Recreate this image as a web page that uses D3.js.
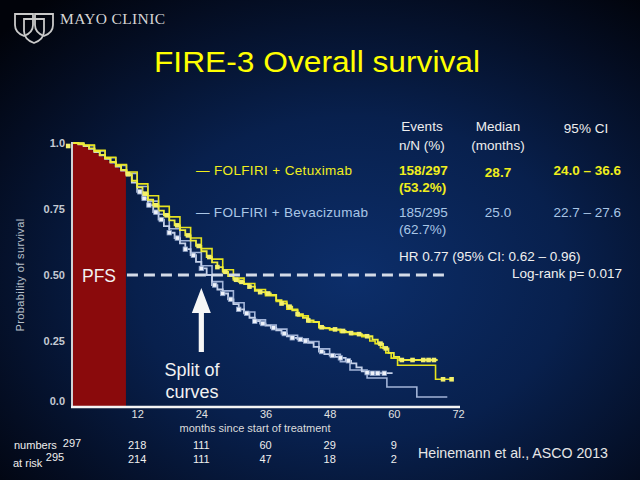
<!DOCTYPE html>
<html><head><meta charset="utf-8">
<script src="https://cdn.jsdelivr.net/npm/d3@7"></script>
<style>html,body{margin:0;padding:0;background:#000;}svg{display:block;}</style>
</head><body><svg id="c" width="640" height="480"></svg>
<script>
// ---------- DATA ----------
const xTicks = [12, 24, 36, 48, 60, 72];
const yTicks = [0, 0.25, 0.5, 0.75, 1.0];
const yTickLabels = ["0.0", "0.25", "0.50", "0.75", "1.0"];

// FOLFIRI + Cetuximab (main curve with censor marks)
const cetuxTimeA = [0,1,2,3,4,5,6,7,8,9,10,11,12,13,14,15,16,17,18,19,20,21,22,23,24,25,26,27,28,29,30,31,32,33,34,35,36,37,38,39,40,41,42,43,44,45,46,47,48,49,50,51,52,53,54,55,56,57,58,59,60,61,68.2];
const cetuxSurvA = [1.0,0.996,0.99,0.98,0.968,0.955,0.942,0.928,0.913,0.898,0.882,0.857,0.832,0.808,0.785,0.764,0.744,0.726,0.707,0.688,0.67,0.65,0.63,0.61,0.59,0.568,0.548,0.53,0.512,0.496,0.482,0.474,0.466,0.456,0.44,0.435,0.43,0.425,0.405,0.392,0.38,0.366,0.352,0.338,0.328,0.322,0.302,0.298,0.296,0.294,0.288,0.284,0.28,0.276,0.272,0.268,0.255,0.24,0.222,0.205,0.19,0.178,0.178];
// FOLFIRI + Cetuximab (second, thin curve)
const cetuxTimeB = [0,2,4,6,8,10,12,14,16,18,20,22,24,26,28,30,32,34,36,38,40,42,44,46,48,50,52,54,55.5,56.5,57.5,58.5,59.5,60.7,67.8,71];
const cetuxSurvB = [1.0,0.992,0.972,0.946,0.918,0.89,0.845,0.8,0.76,0.72,0.68,0.64,0.6,0.56,0.52,0.488,0.468,0.445,0.422,0.4,0.37,0.345,0.322,0.3,0.292,0.282,0.275,0.266,0.25,0.24,0.225,0.205,0.185,0.158,0.105,0.105];
const cetuxCensorA = [-0.9,10.3,13.5,15.5,17.5,19.5,21.5,23.5,25.5,27,28.5,30.5,31.5,33,35,36.5,39,40.5,42,44,46.5,49,50.5,52,53.5,55,57.5,58.5,61.5,63.5,65.5,66.5,67.5];
const cetuxCensorB = [69.2, 70.8];

// FOLFIRI + Bevacizumab
const bevaTimeA = [0,1,2,3,4,5,6,7,8,9,10,11,12,13,14,15,16,17,18,19,20,21,22,23,24,25,26,27,28,29,30,31,32,33,34,35,36,37,38,39,40,41,42,43,44,45,46,47,48,49,50,51,52,53,54,55,56,59.6];
const bevaSurvA = [1.0,0.995,0.988,0.978,0.966,0.953,0.94,0.926,0.911,0.895,0.877,0.85,0.815,0.79,0.765,0.738,0.71,0.685,0.66,0.64,0.62,0.598,0.575,0.55,0.525,0.5,0.462,0.445,0.43,0.408,0.39,0.37,0.355,0.338,0.325,0.316,0.308,0.3,0.29,0.278,0.268,0.262,0.256,0.25,0.243,0.228,0.21,0.2,0.195,0.19,0.186,0.175,0.165,0.15,0.135,0.13,0.128,0.125];
const bevaTimeB = [0,2,4,6,8,10,12,14,16,18,20,22,24,26,28,30,32,34,36,38,40,42,44,46,48,50,51.8,55,58.7,64.3,70];
const bevaSurvB = [1.0,0.99,0.97,0.944,0.915,0.885,0.835,0.78,0.73,0.675,0.63,0.585,0.535,0.475,0.44,0.395,0.36,0.33,0.31,0.295,0.272,0.258,0.248,0.22,0.2,0.172,0.14,0.11,0.076,0.038,0.038];
const bevaCensorA = [12.5,13.3,14.2,15.5,16.5,18,19.5,21,22.5,24,26.5,28,29.5,31,32.5,34,35.5,37.5,39.5,41,42.5,43.5,46.5,48.5,50,51.5,55,56,57,58.2];

const pfsMonths = 9.9;
const riskTimes = [0, 12, 24, 36, 48, 60];
const cetuxRisk = [297, 218, 111, 60, 29, 9];
const bevaRisk  = [295, 214, 111, 47, 18, 2];

const tableHeader = [["Events","n/N (%)"],["Median","(months)"],["95% CI"]];
const armNames = ["— FOLFIRI + Cetuximab","— FOLFIRI + Bevacizumab"];
const armEvents = [["158/297","(53.2%)"],["185/295","(62.7%)"]];
const armMedian = ["28.7","25.0"];
const armCI = ["24.0 – 36.6","22.7 – 27.6"];

// ---------- DRAW ----------
const svg = d3.select("#c");
const defs = svg.append("defs");
const g = defs.append("radialGradient").attr("id","bg").attr("cx","0.55").attr("cy","0.58").attr("r","0.75");
g.append("stop").attr("offset","0%").attr("stop-color","#0c2e6a");
g.append("stop").attr("offset","45%").attr("stop-color","#08204d");
g.append("stop").attr("offset","80%").attr("stop-color","#040d22");
g.append("stop").attr("offset","100%").attr("stop-color","#01030a");
svg.append("rect").attr("width",640).attr("height",480).attr("fill","url(#bg)");

const FONT = "'Liberation Sans', Arial, Helvetica, sans-serif";

// Logo
const logo = svg.append("g").attr("fill","none").attr("stroke","#c9c9c9").attr("stroke-width",1.8);
function shield(x0, y0, w, h){
  return `M${x0},${y0} H${x0+w} V${y0+h*0.5} Q${x0+w},${y0+h*0.85} ${x0+w/2},${y0+h} Q${x0},${y0+h*0.85} ${x0},${y0+h*0.5} Z`;
}
logo.append("path").attr("d", shield(15,14,18,22));
logo.append("path").attr("d", shield(35,14,18,22));
logo.append("path").attr("d", shield(24,19,20,24));
svg.append("text").attr("x",60).attr("y",24).attr("font-family","'Liberation Serif', 'Times New Roman', serif")
  .attr("font-size",15.5).attr("fill","#d6d6d6").attr("textLength",105).text("MAYO CLINIC");

// Title
svg.append("text").attr("x",317).attr("y",72).attr("text-anchor","middle")
  .attr("font-family",FONT).attr("font-size",30).attr("fill","#ffff00")
  .attr("textLength",326).attr("lengthAdjust","spacingAndGlyphs")
  .text("FIRE-3 Overall survival");

// Scales
const x = d3.scaleLinear().domain([0,72]).range([73,458]);
const y = d3.scaleLinear().domain([0,1]).range([407,143]);

function pairs(t, s){ return t.map((v,i)=>[v, s[i]]); }
function stepAt(t, s, tt){
  let v = s[0];
  for (let i=0;i<t.length;i++){ if (t[i] <= tt) v = s[i]; }
  return v;
}
const cetA = pairs(cetuxTimeA, cetuxSurvA), cetB = pairs(cetuxTimeB, cetuxSurvB);
const bevA = pairs(bevaTimeA, bevaSurvA), bevB = pairs(bevaTimeB, bevaSurvB);

// PFS box
const pfsPts = cetA.filter(d=>d[0] <= pfsMonths).concat([[pfsMonths, stepAt(cetuxTimeA,cetuxSurvA,pfsMonths)]]);
svg.append("path").datum(pfsPts)
  .attr("d", d3.area().x(d=>x(d[0])).y0(y(0)).y1(d=>y(d[1])))
  .attr("fill","#8a0a0c");

// Curves
const step = d3.line().x(d=>x(d[0])).y(d=>y(d[1])).curve(d3.curveStepAfter);
const BLUE = "#a2b4d8", YEL = "#e6e31e";
svg.append("path").datum(bevB).attr("d",step).attr("fill","none").attr("stroke",BLUE).attr("stroke-width",1.6);
svg.append("path").datum(bevA).attr("d",step).attr("fill","none").attr("stroke","#c4d0e8").attr("stroke-width",1.8);
svg.append("path").datum(cetB).attr("d",step).attr("fill","none").attr("stroke",YEL).attr("stroke-width",1.6);
svg.append("path").datum(cetA).attr("d",step).attr("fill","none").attr("stroke","#eeec3a").attr("stroke-width",1.8);

svg.append("g").selectAll("rect").data(bevaCensorA).join("rect")
  .attr("x",d=>x(d)-2.2).attr("y",d=>y(stepAt(bevaTimeA,bevaSurvA,d))-2.2)
  .attr("width",4.4).attr("height",4.4).attr("fill","#eef2fa").attr("stroke","#8fa3c8").attr("stroke-width",0.8);
svg.append("g").selectAll("rect").data(cetuxCensorA).join("rect")
  .attr("x",d=>x(d)-2.3).attr("y",d=>y(stepAt(cetuxTimeA,cetuxSurvA,Math.max(d,0)))-2.3 + (d<0?3:0))
  .attr("width",4.6).attr("height",4.6).attr("fill","#f3f06c");
svg.append("g").selectAll("rect").data(cetuxCensorB).join("rect")
  .attr("x",d=>x(d)-2.3).attr("y",d=>y(stepAt(cetuxTimeB,cetuxSurvB,d))-2.3)
  .attr("width",4.6).attr("height",4.6).attr("fill","#f3f06c");

// Axes
const yAxis = d3.axisLeft(y).tickValues(yTicks).tickFormat((d,i)=>yTickLabels[i]).tickSize(0).tickPadding(7);
const ya = svg.append("g").attr("transform",`translate(${x(0)-1},0)`).call(yAxis);
ya.select(".domain").remove();
ya.selectAll("text").attr("font-family",FONT).attr("font-size",11).attr("font-weight","bold").attr("fill","#c3c9d2")
  .attr("dy",d=>d===0?"-0.2em":"0.32em");
svg.append("line").attr("x1",x(0)-1).attr("x2",x(0)-1).attr("y1",y(1)-1).attr("y2",y(0)+1)
  .attr("stroke","#e8e8e8").attr("stroke-width",1.8);

const xAxis = d3.axisBottom(x).tickValues(xTicks).tickSize(0).tickPadding(3);
const xa = svg.append("g").attr("transform",`translate(0,${y(0)})`).call(xAxis);
xa.select(".domain").remove();
xa.selectAll("text").attr("font-family",FONT).attr("font-size",11).attr("fill","#e2e2e2");
svg.append("line").attr("x1",x(0)-2).attr("x2",x(72)+2).attr("y1",y(0)).attr("y2",y(0))
  .attr("stroke","#f4f4f4").attr("stroke-width",2.6);

svg.append("text").attr("transform",`translate(24,${y(0.5)}) rotate(-90)`).attr("text-anchor","middle")
  .attr("font-family",FONT).attr("font-size",11).attr("letter-spacing",0.4).attr("fill","#b9c1cb")
  .text("Probability of survival");
svg.append("text").attr("x",255).attr("y",432).attr("text-anchor","middle")
  .attr("font-family",FONT).attr("font-size",11).attr("fill","#dcdcdc").text("months since start of treatment");

// Median dashed line, PFS label
svg.append("line").attr("x1",x(pfsMonths)+1).attr("x2",449).attr("y1",y(0.5)).attr("y2",y(0.5))
  .attr("stroke","#d4dbe8").attr("stroke-width",3.2).attr("stroke-dasharray","11,6");
svg.append("text").attr("x",99).attr("y",y(0.5)+6.5).attr("text-anchor","middle")
  .attr("font-family",FONT).attr("font-size",17.5).attr("fill","#f2f2f2").text("PFS");

// Arrow and "Split of curves"
const ax = x(24);
svg.append("path").attr("d",`M${ax-2.6},352 V313 H${ax-9.5} L${ax},288 L${ax+9.5},313 H${ax+2.6} V352 Z`).attr("fill","#f6f6f6");
svg.append("text").attr("x",192).attr("y",376).attr("text-anchor","middle").attr("font-family",FONT)
  .attr("font-size",18).attr("fill","#f2f2f2").text("Split of");
svg.append("text").attr("x",192).attr("y",398).attr("text-anchor","middle").attr("font-family",FONT)
  .attr("font-size",18).attr("fill","#f2f2f2").text("curves");

// Table / legend
const T = svg.append("g").attr("font-family",FONT).attr("font-size",13.5);
const hdrX = [422, 498, 586];
tableHeader.forEach((h,i)=>{
  h.forEach((line,j)=>{
    T.append("text").attr("x",hdrX[i]).attr("y",(i===2?133:131)+j*19).attr("text-anchor","middle").attr("fill","#eeeeee").text(line);
  });
});
const armColor = ["#f0ee1c","#a9c6e6"];
const rowY = [175, 217];
armNames.forEach((n,i)=>{
  const c = armColor[i], w = i===0 ? "bold" : "normal";
  T.append("text").attr("x",196).attr("y",rowY[i]).attr("fill",c).attr("textLength",i===0?156:172).text(n);
  T.append("text").attr("x",399).attr("y",rowY[i]).attr("fill",c).attr("font-weight",w).text(armEvents[i][0]);
  T.append("text").attr("x",399).attr("y",rowY[i]+17).attr("fill",c).attr("font-weight",w).text(armEvents[i][1]);
  T.append("text").attr("x",498).attr("y",rowY[i]+(i===0?2:0)).attr("text-anchor","middle").attr("fill",c).attr("font-weight",w).text(armMedian[i]);
  T.append("text").attr("x",621).attr("y",rowY[i]).attr("text-anchor","end").attr("fill",c).attr("font-weight",w).text(armCI[i]);
});
T.append("text").attr("x",399).attr("y",261).attr("fill","#f0f0f0").text("HR 0.77 (95% CI: 0.62 – 0.96)");
T.append("text").attr("x",622).attr("y",278).attr("text-anchor","end").attr("fill","#f0f0f0").text("Log-rank p= 0.017");

// Numbers at risk
const R = svg.append("g").attr("font-family",FONT).attr("font-size",11).attr("fill","#efefef");
R.append("text").attr("x",14).attr("y",449).text("numbers");
R.append("text").attr("x",13).attr("y",467).text("at risk");
riskTimes.forEach((t,i)=>{
  R.append("text").attr("x", i===0 ? x(t)-1 : x(t)).attr("y", i===0 ? 447 : 449).attr("text-anchor","middle").text(cetuxRisk[i]);
  R.append("text").attr("x", i===0 ? x(t)-18 : x(t)).attr("y", i===0 ? 461 : 463).attr("text-anchor","middle").text(bevaRisk[i]);
});

svg.append("text").attr("x",418).attr("y",458).attr("font-family",FONT).attr("font-size",14.5)
  .attr("fill","#e6e6e6").attr("textLength",190).attr("lengthAdjust","spacingAndGlyphs").text("Heinemann et al., ASCO 2013");
</script></body></html>
